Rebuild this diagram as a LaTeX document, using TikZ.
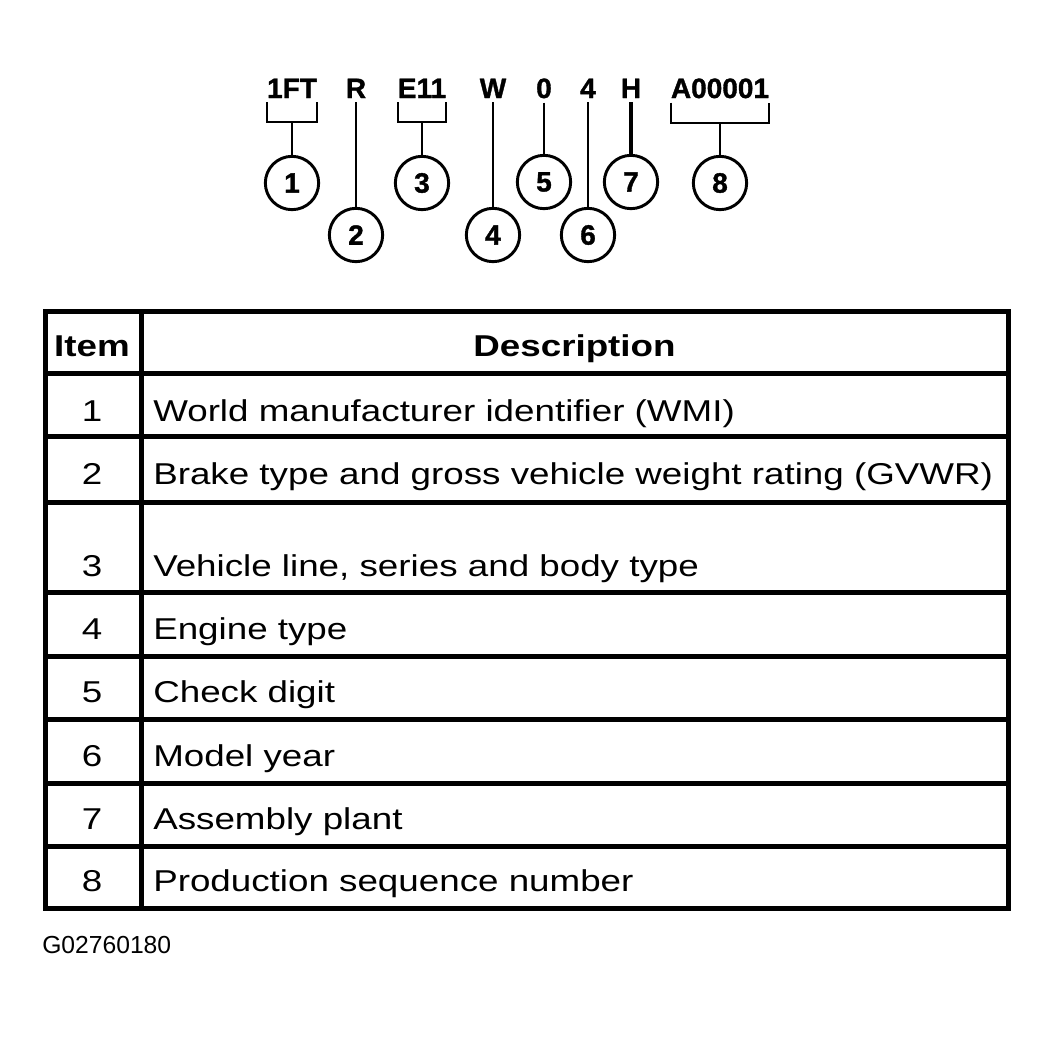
\documentclass[tikz,border=0pt]{standalone}
\usepackage{fontspec}
\usepackage{xcolor}
\setmainfont{Liberation Sans}
\newfontfamily\tabfont[FakeStretch=1.22]{Liberation Sans}
\newfontfamily\vinfont[FakeBold=1.2]{Liberation Sans}

\tikzset{
    vin/.style={font=\vinfont\fontsize{21pt}{24pt}\selectfont\bfseries, inner sep=0pt, anchor=base},
    num/.style={draw, circle, line width=2.2pt, minimum size=40pt, inner sep=0pt, font=\vinfont\fontsize{21pt}{24pt}\selectfont\bfseries},
    lead/.style={line width=1.5pt},
    cell/.style={font=\tabfont\fontsize{22.6pt}{26pt}\selectfont, inner sep=0pt, anchor=base},
    rule/.style={line width=3.75pt},
}

\begin{document}
\begin{tikzpicture}[x=0.75pt, y=-0.75pt]
    \useasboundingbox (0,0) rectangle (1049,1036);

    % the VIN parts
    \foreach \x/\name/\txt in {292/v1/1FT, 356/v2/R, 422/v3/E11, 493/v4/W, 544/v5/0, 588/v6/4, 631/v7/H, 720/v8/A00001}{
        \node[vin] (\name) at (\x,98) {\txt};
    }

    % numbered circles
    \foreach \x/\y/\n in {292/183/1, 356/235/2, 422/183/3, 493/235/4, 544/182/5, 588/235/6, 631/182/7, 720/183/8}{
        \node[num] (c\n) at (\x,\y) {\n};
    }

    \foreach \n in {1,3,8}{
        \coordinate (b\n) at ([yshift=-18pt]v\n.south);
        \draw[lead] ([yshift=-3pt]v\n.south west) |- (b\n) -| ([yshift=-3pt]v\n.south east);
        \draw[lead] (b\n) -- (c\n);
    }
    \foreach \n in {2,4,5,6}{
        \draw[lead] ([yshift=-3pt]v\n.south) -- (c\n);
    }
    \draw[lead, line width=3.5pt] ([yshift=-3pt]v7.south) -- (c7);

    % table
    \draw[rule] (45,311) rectangle (1008,908);
    \foreach \y in {373,436,502,592,656,719,783,846}{
        \draw[rule] (45,\y) -- (1008,\y);
    }
    \draw[rule] (141,311) -- (141,908);

    \node[cell, font=\tabfont\fontsize{22.6pt}{26pt}\selectfont\bfseries] (hitem) at (92,356) {Item};
    \node[cell, font=\tabfont\fontsize{22.6pt}{26pt}\selectfont\bfseries] (hdesc) at (574.5,356) {Description};

    \foreach \y/\n/\txt in {421/1/{World manufacturer identifier (WMI)},
                            484/2/{Brake type and gross vehicle weight rating (GVWR)},
                            576/3/{Vehicle line, series and body type},
                            639/4/{Engine type},
                            702/5/{Check digit},
                            766/6/{Model year},
                            829/7/{Assembly plant},
                            891/8/{Production sequence number}}{
        \node[cell] (i\n) at (92,\y) {\n};
        \node[cell, anchor=base west] (d\n) at (153,\y) {\txt};
    }

    \node[font=\fontsize{18.5pt}{21pt}\selectfont, inner sep=0pt, anchor=base west] (figno) at (42,953) {G02760180};

\end{tikzpicture}
\end{document}
